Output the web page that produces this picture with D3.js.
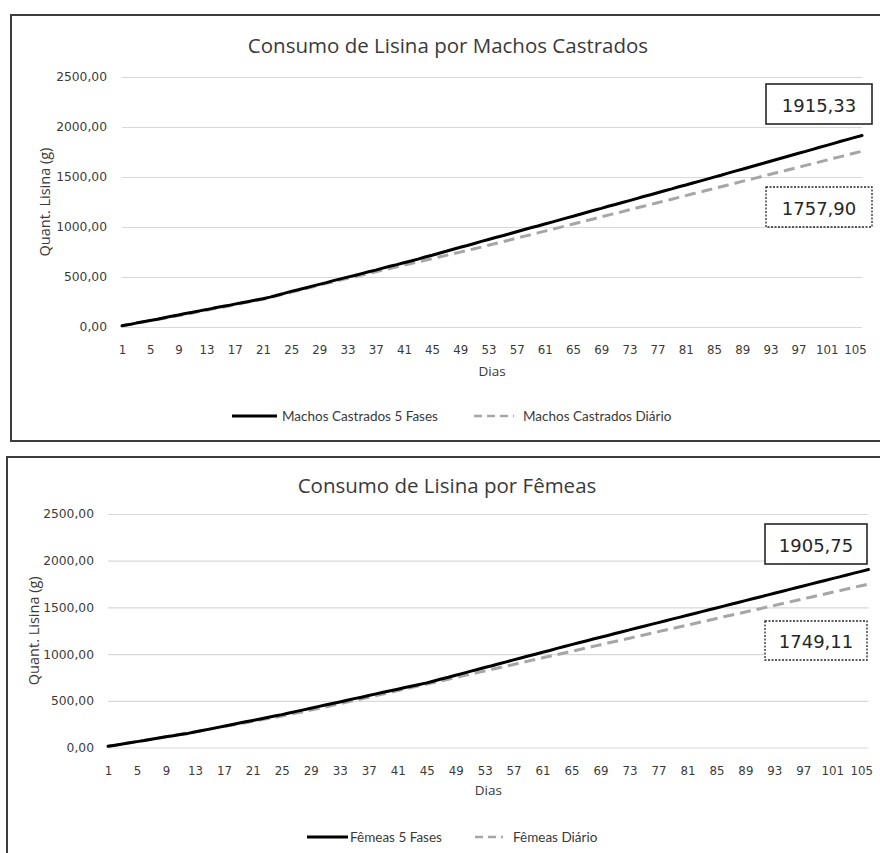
<!DOCTYPE html>
<html>
<head>
<meta charset="utf-8">
<script src="https://cdn.jsdelivr.net/npm/d3@7"></script>
<style>
  html, body { margin: 0; padding: 0; background: #fff; }
  svg { display: block; }
</style>
</head>
<body>
<svg id="chart" width="880" height="853"></svg>
<script>
// Dias de alojamento (categorias do eixo X)
const days = [
  1, 2, 3, 4, 5, 6, 7, 8, 9, 10, 11, 12, 13, 14, 15, 16, 17, 18, 19, 20,
  21, 22, 23, 24, 25, 26, 27, 28, 29, 30, 31, 32, 33, 34, 35, 36, 37, 38, 39, 40,
  41, 42, 43, 44, 45, 46, 47, 48, 49, 50, 51, 52, 53, 54, 55, 56, 57, 58, 59, 60,
  61, 62, 63, 64, 65, 66, 67, 68, 69, 70, 71, 72, 73, 74, 75, 76, 77, 78, 79, 80,
  81, 82, 83, 84, 85, 86, 87, 88, 89, 90, 91, 92, 93, 94, 95, 96, 97, 98, 99, 100,
  101, 102, 103, 104, 105, 106
];

// Rótulos mostrados no eixo X (a cada 4 dias)
const xTickDays = [1, 5, 9, 13, 17, 21, 25, 29, 33, 37, 41, 45, 49, 53, 57, 61, 65, 69,
  73, 77, 81, 85, 89, 93, 97, 101, 105];

// Marcas do eixo Y (g)
const yTicks = [0, 500, 1000, 1500, 2000, 2500];

// Consumo acumulado de lisina (g) — machos castrados, 5 fases
const machosFases = [
  12, 24, 39, 52, 66, 78, 93, 107, 120, 135, 147, 161, 174, 189, 202, 214, 229, 243, 256, 270, 282,
  299, 318, 336, 356, 372, 390, 409, 426, 444, 464, 481, 499, 515, 534, 552, 569, 589, 607, 624, 643, 660,
  679, 700, 718, 738, 757, 778, 797, 815, 835, 856, 875, 895, 913, 932, 953, 973, 992, 1010, 1030, 1049, 1069,
  1089, 1107, 1128, 1147, 1167, 1186, 1207, 1225, 1245, 1264, 1284, 1305, 1323, 1342, 1362, 1381, 1402, 1420, 1440, 1459, 1479,
  1499, 1518, 1539, 1559, 1577, 1598, 1618, 1637, 1658, 1678, 1697, 1717, 1738, 1756, 1776, 1797, 1816, 1836, 1857, 1876, 1896, 1915.33
];

// Consumo acumulado de lisina (g) — machos castrados, ajuste diário
const machosDiario = [
  12, 24, 37, 49, 62, 75, 87, 100, 114, 127, 140, 154, 167, 181, 195, 208, 222, 236, 251, 265, 278,
  294, 311, 329, 346, 364, 381, 399, 418, 436,
  453, 469, 486, 502, 519, 535, 552, 568, 585, 601, 617, 634, 650, 667, 683, 700, 716, 733, 749, 766, 782, 799,
  817, 835, 852, 870, 888, 906, 923, 941, 959, 977, 994, 1012, 1030, 1048, 1065, 1083, 1101, 1119, 1136, 1154,
  1172, 1190, 1207, 1225, 1243, 1261, 1278, 1296, 1314, 1332, 1349, 1367, 1385, 1403, 1420, 1438, 1456, 1474,
  1491, 1509, 1527, 1545, 1562, 1580, 1598, 1616, 1633, 1651, 1669, 1687, 1704, 1722, 1740, 1757.90
];

// Consumo acumulado de lisina (g) — fêmeas, 5 fases
const femeasFases = [
  13, 25, 38, 50, 63, 75, 89, 101, 114, 126, 139, 151,
  166, 182, 197, 213, 228, 244, 259, 275, 290, 306, 321, 337, 352,
  369, 387, 403, 420, 438, 455, 471, 488, 506, 523, 539, 556, 574, 591, 607, 624, 642, 659, 675, 692,
  712, 733, 752, 774, 794, 815, 835, 856, 875, 897, 917, 938, 958, 979, 999, 1020, 1039, 1061, 1081, 1102,
  1122, 1141, 1161, 1181, 1200, 1220, 1239, 1259, 1279, 1298, 1318, 1337, 1357, 1377, 1396, 1416, 1435, 1455,
  1475, 1494, 1514, 1533, 1553, 1573, 1592, 1612, 1631, 1651, 1671, 1690, 1710, 1729, 1749, 1769, 1788, 1808,
  1827, 1847, 1867, 1886, 1905.75
];

// Consumo acumulado de lisina (g) — fêmeas, ajuste diário
const femeasDiario = [
  13, 25, 38, 51, 63, 76, 89, 102, 115, 129, 142, 155, 169, 182, 196, 210, 224, 237, 251, 266, 280, 294, 309, 323, 338,
  353, 369, 385, 401, 417, 433,
  451, 468, 486, 503, 521, 538, 556, 573, 591, 609, 626, 644, 661, 679, 696, 714, 731, 749,
  767, 784, 802, 819, 837, 854, 872, 889, 907, 925, 942, 960, 977, 995, 1012, 1030, 1047, 1065,
  1083, 1100, 1118, 1135, 1153, 1170, 1188, 1205, 1223, 1241, 1258, 1276, 1293, 1311, 1328, 1346, 1363, 1381,
  1399, 1416, 1434, 1451, 1469, 1486, 1504, 1521, 1539, 1557, 1574, 1592, 1609, 1627, 1644, 1662, 1679, 1697,
  1715, 1732, 1749.11
];

// Formato numérico pt-BR (vírgula decimal)
const ptBR = d3.formatLocale({ decimal: ",", thousands: ".", grouping: [3], currency: ["R$", ""] });
const fmt = ptBR.format(".2f");

const svg = d3.select("#chart");

const TEXT = "#3a3a3a";
const GRID = "#d9d9d9";

function drawChart(cfg) {
  const g = svg.append("g");

  // Moldura do gráfico
  g.append("rect")
    .attr("x", cfg.frame.x).attr("y", cfg.frame.y)
    .attr("width", cfg.frame.w).attr("height", cfg.frame.h)
    .attr("fill", "#fff").attr("stroke", "#3c3c3c").attr("stroke-width", 2);

  const x = d3.scalePoint().domain(days).range([cfg.left, cfg.right]);
  const y = d3.scaleLinear().domain([0, 2500]).range([cfg.bottom, cfg.top]);

  // Eixo Y com linhas de grade
  const yAxis = g.append("g")
    .attr("transform", `translate(${cfg.left},0)`)
    .call(d3.axisLeft(y).tickValues(yTicks).tickFormat(fmt)
      .tickSize(-(cfg.right - cfg.left)).tickPadding(cfg.yPad));
  yAxis.select(".domain").remove();
  yAxis.selectAll(".tick line").attr("stroke", GRID).attr("stroke-width", 1.2);
  yAxis.selectAll(".tick text")
    .attr("fill", TEXT).style("font-family", "DejaVu Sans").style("font-size", "12.3px");

  // Eixo X (categorias)
  const xAxis = g.append("g")
    .attr("transform", `translate(0,${cfg.bottom})`)
    .call(d3.axisBottom(x).tickValues(xTickDays).tickSize(0).tickPadding(cfg.xPad));
  xAxis.select(".domain").remove();
  xAxis.selectAll(".tick text")
    .attr("fill", TEXT).style("font-family", "DejaVu Sans").style("font-size", "11.8px");

  // Séries
  const line = d3.line().x((d, i) => x(days[i])).y(d => y(d));
  g.append("path").datum(cfg.diario)
    .attr("fill", "none").attr("stroke", "#a6a6a6").attr("stroke-width", 3)
    .attr("stroke-dasharray", "11,6").attr("stroke-linejoin", "round")
    .attr("d", line);
  g.append("path").datum(cfg.fases)
    .attr("fill", "none").attr("stroke", "#000").attr("stroke-width", 3)
    .attr("stroke-linejoin", "round").attr("stroke-linecap", "round")
    .attr("d", line);

  // Título
  g.append("text")
    .attr("x", cfg.titleX).attr("y", cfg.titleY)
    .attr("text-anchor", "middle").attr("dominant-baseline", "central")
    .attr("fill", TEXT).style("font-family", "Open Sans").style("font-size", "20.5px")
    .text(cfg.title);

  // Títulos dos eixos
  g.append("text")
    .attr("x", (cfg.left + cfg.right) / 2).attr("y", cfg.diasY)
    .attr("text-anchor", "middle").attr("dominant-baseline", "central")
    .attr("fill", TEXT).style("font-family", "Open Sans").style("font-size", "13.5px")
    .text("Dias");
  g.append("text")
    .attr("transform", `translate(${cfg.yTitleX},${(cfg.top + cfg.bottom) / 2}) rotate(-90)`)
    .attr("text-anchor", "middle").attr("dominant-baseline", "central")
    .attr("fill", TEXT).style("font-family", "Open Sans").style("font-size", "14.5px")
    .text("Quant. Lisina (g)");

  // Rótulos de valor final
  const boxes = [
    { b: cfg.boxFases, v: cfg.fases[cfg.fases.length - 1], dash: null },
    { b: cfg.boxDiario, v: cfg.diario[cfg.diario.length - 1], dash: "2,1.5" }
  ];
  boxes.forEach(({ b, v, dash }) => {
    g.append("rect")
      .attr("x", b.x).attr("y", b.y).attr("width", b.w).attr("height", b.h)
      .attr("fill", "#fff").attr("stroke", "#262626").attr("stroke-width", dash ? 1.3 : 1.6)
      .attr("stroke-dasharray", dash);
    g.append("text")
      .attr("x", b.x + b.w / 2).attr("y", b.y + b.h / 2 + 1)
      .attr("text-anchor", "middle").attr("dominant-baseline", "central")
      .attr("fill", "#262626").style("font-family", "DejaVu Sans").style("font-size", "18px")
      .text(fmt(v));
  });

  // Legenda
  const lg = g.append("g");
  const items = [
    { it: cfg.legend[0], label: cfg.labelFases, stroke: "#000", dash: null, w: 3 },
    { it: cfg.legend[1], label: cfg.labelDiario, stroke: "#a6a6a6", dash: "8,5", w: 2.6 }
  ];
  items.forEach(({ it, label, stroke, dash, w }) => {
    lg.append("line")
      .attr("x1", it.x0).attr("x2", it.x1).attr("y1", cfg.legendY).attr("y2", cfg.legendY)
      .attr("stroke", stroke).attr("stroke-width", w).attr("stroke-dasharray", dash);
    lg.append("text")
      .attr("x", it.tx).attr("y", cfg.legendY)
      .attr("dominant-baseline", "central")
      .attr("fill", TEXT).style("font-family", "Lato").style("font-size", "13.5px")
      .text(label);
  });
}

drawChart({
  frame: { x: 11, y: 15, w: 880, h: 426 },
  left: 122, right: 862, top: 77, bottom: 327,
  yPad: 15, xPad: 19,
  title: "Consumo de Lisina por Machos Castrados", titleX: 448, titleY: 45,
  diasY: 371, yTitleX: 44,
  fases: machosFases, diario: machosDiario,
  labelFases: "Machos Castrados 5 Fases", labelDiario: "Machos Castrados Diário",
  boxFases: { x: 766, y: 84, w: 106, h: 40 },
  boxDiario: { x: 766, y: 187, w: 106, h: 40 },
  legendY: 416,
  legend: [{ x0: 232, x1: 277, tx: 282 }, { x0: 474, x1: 514, tx: 523 }]
});

drawChart({
  frame: { x: 7, y: 457, w: 890, h: 420 },
  left: 108, right: 868.5, top: 514, bottom: 747.5,
  yPad: 14, xPad: 19,
  title: "Consumo de Lisina por Fêmeas", titleX: 447, titleY: 485,
  diasY: 790, yTitleX: 33,
  fases: femeasFases, diario: femeasDiario,
  labelFases: "Fêmeas 5 Fases", labelDiario: "Fêmeas Diário",
  boxFases: { x: 765, y: 524, w: 102, h: 40 },
  boxDiario: { x: 765, y: 621, w: 102, h: 39 },
  legendY: 837,
  legend: [{ x0: 307, x1: 348, tx: 350 }, { x0: 475, x1: 503, tx: 513 }]
});
</script>
</body>
</html>
